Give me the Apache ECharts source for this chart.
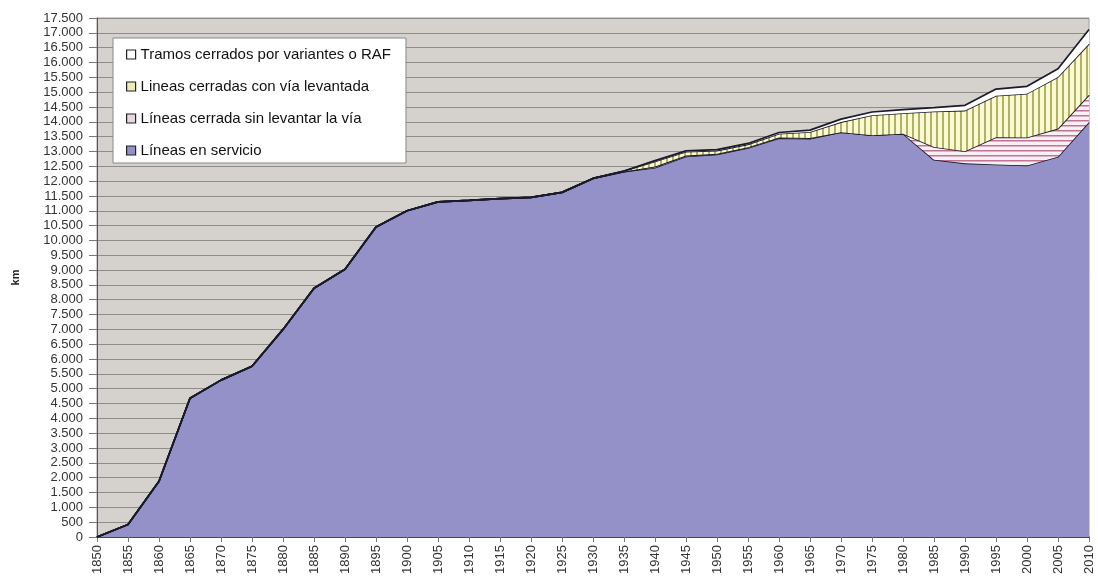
<!DOCTYPE html>
<html>
<head>
<meta charset="utf-8">
<script src="https://cdn.jsdelivr.net/npm/echarts@6/dist/echarts.min.js"></script>
<style>
html,body{margin:0;padding:0;background:#fff;}
#chart{width:1098px;height:579px;}
</style>
</head>
<body>
<div id="chart"></div>
<script>
const years = ['1850','1855','1860','1865','1870','1875','1880','1885','1890','1895','1900','1905','1910','1915','1920','1925','1930','1935','1940','1945','1950','1955','1960','1965','1970','1975','1980','1985','1990','1995','2000','2005','2010'];
const enServicio = [0,420,1880,4680,5290,5760,7000,8390,9030,10450,11000,11300,11350,11410,11450,11620,12090,12320,12450,12830,12900,13120,13450,13430,13650,13550,13600,12720,12600,12560,12530,12820,13990];
const sinLevantar = [0,0,0,0,0,0,0,0,0,0,0,0,0,0,0,0,0,0,40,30,20,20,20,20,0,0,0,430,410,920,940,950,920];
const viaLevantada = [0,0,0,0,0,0,0,0,0,0,0,0,0,0,0,0,0,20,170,130,110,100,130,210,340,670,690,1200,1370,1400,1480,1740,1720];
const tramosVariantes = [0,0,0,0,0,0,0,0,0,0,0,0,0,0,0,0,0,0,30,30,30,30,40,60,100,110,120,130,175,225,245,280,480];
const seriesNames = ['Líneas en servicio','Líneas cerrada sin levantar la vía','Lineas cerradas con vía levantada','Tramos cerrados por variantes o RAF'];

function makePattern(w, h, bg, fg, vertical, lw) {
  const c = document.createElement('canvas');
  c.width = w; c.height = h;
  const ctx = c.getContext('2d');
  ctx.fillStyle = bg; ctx.fillRect(0, 0, w, h);
  ctx.fillStyle = fg;
  if (vertical) ctx.fillRect(0, 0, lw, h); else ctx.fillRect(0, 0, w, lw);
  return c;
}
const yellowPat = makePattern(6, 6, '#fafad0', '#b3b06a', true, 2);
const pinkPat = makePattern(5, 5, '#f8f0f4', '#c27392', false, 1.5);

const fillColors = ['#9391c7', {image: pinkPat, repeat: 'repeat'}, {image: yellowPat, repeat: 'repeat'}, '#ffffff'];
const legendColors = ['#9391c7', '#e9d6e0', '#ecebb8', '#ffffff'];
const dataSets = [enServicio, sinLevantar, viaLevantada, tramosVariantes];

const chart = echarts.init(document.getElementById('chart'), null, {renderer: 'canvas'});
const fmt = v => String(v).replace(/\B(?=(\d{3})+(?!\d))/g, '.');

chart.setOption({
  animation: false,
  backgroundColor: '#ffffff',
  textStyle: {fontFamily: 'Liberation Sans'},
  grid: {left: 97, right: 9, top: 18, bottom: 42, outerBoundsMode: 'none', containLabel: false, show: true, backgroundColor: '#d5d2ce', borderColor: '#9a9a9a', borderWidth: 1},
  legend: {
    orient: 'vertical',
    left: 113, top: 38,
    padding: [9, 15, 5, 13],
    backgroundColor: '#ffffff',
    borderColor: '#888888', borderWidth: 1,
    itemWidth: 9, itemHeight: 9, itemGap: 17,
    icon: 'rect',
    textStyle: {fontFamily: 'Liberation Sans', fontSize: 15, color: '#111', lineHeight: 15},
    data: seriesNames.slice().reverse().map(n => {
      const i = seriesNames.indexOf(n);
      return {name: n, itemStyle: {color: legendColors[i], borderColor: '#222', borderWidth: 1.2}};
    })
  },
  xAxis: {
    type: 'category',
    data: years,
    boundaryGap: false,
    axisLine: {lineStyle: {color: '#333', width: 1.5}},
    axisTick: {show: true, lineStyle: {color: '#777'}, length: 5},
    axisLabel: {rotate: 90, fontSize: 13, color: '#333', fontFamily: 'Liberation Sans', margin: 8, interval: 0},
    splitLine: {show: false}
  },
  yAxis: {
    type: 'value',
    min: 0, max: 17500, interval: 500,
    name: 'km', nameLocation: 'middle', nameGap: 76, nameRotate: 90,
    nameTextStyle: {fontSize: 11, fontWeight: 'bold', color: '#222', fontFamily: 'Liberation Sans'},
    axisLine: {show: true, lineStyle: {color: '#555', width: 1}},
    axisTick: {show: true, length: 8, lineStyle: {color: '#777'}},
    axisLabel: {fontSize: 13, color: '#333', fontFamily: 'Liberation Sans', margin: 14, formatter: fmt},
    splitLine: {show: true, lineStyle: {color: '#8f8d8a', width: 1.2}}
  },
  series: dataSets.map((d, i) => ({
    name: seriesNames[i],
    type: 'line',
    stack: 'total',
    data: d,
    symbol: 'none',
    lineStyle: {color: '#1a1a2a', width: 1.7},
    itemStyle: {color: legendColors[i]},
    areaStyle: {color: fillColors[i], opacity: 1},
    z: 2 + i
  }))
});
</script>
</body>
</html>
